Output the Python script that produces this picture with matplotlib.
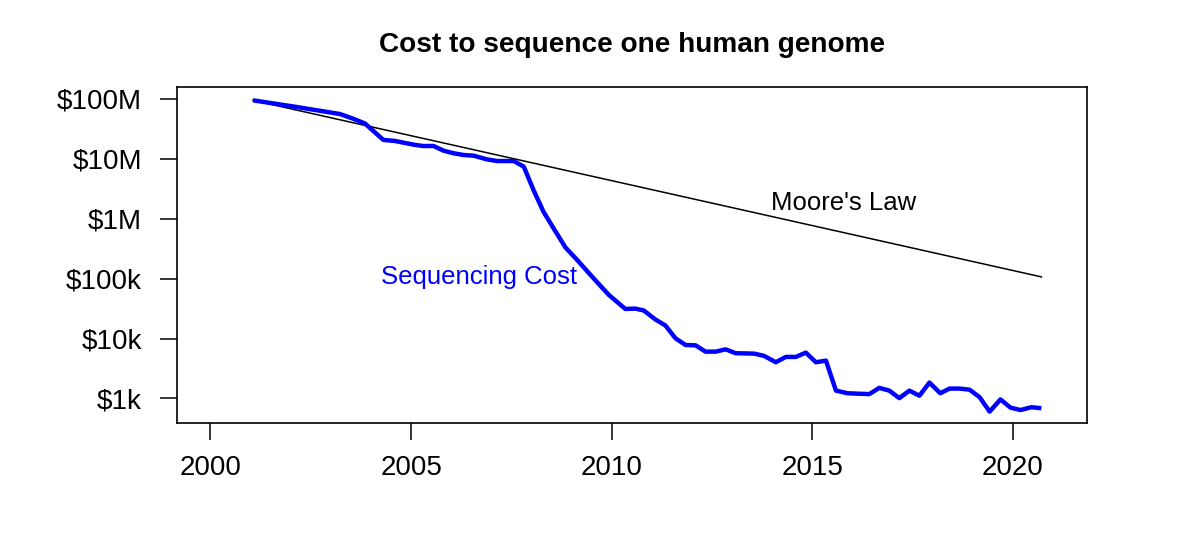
import numpy as np
import matplotlib
matplotlib.use("Agg")
import matplotlib.pyplot as plt

plt.rcParams["font.family"] = ["Liberation Sans", "DejaVu Sans"]

# sequencing cost per genome (USD)
seq_years = [
    2001.06, 2002.23, 2003.23, 2003.55, 2003.85, 2004.31, 2004.60, 2004.85,
    2005.10, 2005.30, 2005.56, 2005.81, 2006.06, 2006.31, 2006.56, 2006.89,
    2007.14, 2007.56, 2007.81, 2008.05, 2008.30, 2008.55, 2008.85, 2009.14,
    2009.55, 2009.93, 2010.34, 2010.59, 2010.80, 2011.09, 2011.34, 2011.59,
    2011.84, 2012.09, 2012.34, 2012.59, 2012.84, 2013.09, 2013.55, 2013.80,
    2014.09, 2014.34, 2014.59, 2014.84, 2015.09, 2015.34, 2015.59, 2015.88,
    2016.42, 2016.67, 2016.92, 2017.17, 2017.42, 2017.67, 2017.92, 2018.19,
    2018.42, 2018.67, 2018.92, 2019.17, 2019.42, 2019.69, 2019.94, 2020.19,
    2020.46, 2020.71,
]
seq_cost = [
    95e6, 72e6, 56e6, 47e6, 39e6, 20.7e6, 19.9e6, 18.4e6,
    17.1e6, 16.4e6, 16.4e6, 13.7e6, 12.4e6, 11.6e6, 11.3e6, 9.8e6,
    9.2e6, 9.2e6, 7.4e6, 3.03e6, 1.31e6, 695e3, 330e3, 205e3,
    101e3, 53.4e3, 31.2e3, 31.6e3, 29.4e3, 20.8e3, 16.5e3, 10.1e3,
    7.8e3, 7.7e3, 6.04e3, 6.04e3, 6.6e3, 5.69e3, 5.6e3, 5.13e3,
    4.02e3, 4.93e3, 4.93e3, 5.82e3, 4.02e3, 4.28e3, 1.35e3, 1.22e3,
    1.18e3, 1.50e3, 1.35e3, 1.01e3, 1.35e3, 1.11e3, 1.84e3, 1.22e3,
    1.46e3, 1.46e3, 1.40e3, 1.05e3, 603, 962, 702, 640,
    713, 686,
]

# Moore's law reference line (end points)
moore_years = [2001.06, 2020.71]
moore_cost = [95e6, 107e3]

x_ticks = [2000, 2005, 2010, 2015, 2020]
y_ticks = [1e3, 1e4, 1e5, 1e6, 1e7, 1e8]
y_tick_labels = ["$1k", "$10k", "$100k", "$1M", "$10M", "$100M"]

fig = plt.figure(figsize=(12, 5.56), dpi=100)
ax = fig.add_axes([0.1473, 0.2387, 0.7583, 0.6043])

ax.plot(moore_years, moore_cost, color="black", linewidth=1.1)
ax.plot(seq_years, seq_cost, color="#0000FF", linewidth=3.2,
        solid_joinstyle="round", solid_capstyle="butt")

ax.set_yscale("log")
ax.set_xlim(1999.16, 2021.84)
ax.set_ylim(10 ** 2.585, 10 ** 8.195)

ax.set_xticks(x_ticks)
ax.set_xticklabels([str(v) for v in x_ticks])
ax.set_yticks(y_ticks)
ax.set_yticklabels(y_tick_labels)
ax.minorticks_off()
ax.tick_params(axis="both", direction="out", length=12.5, width=1.1,
               labelsize=20)
ax.tick_params(axis="x", pad=10.5)
ax.tick_params(axis="y", pad=12.5)

for sp in ax.spines.values():
    sp.set_linewidth(1.2)

ax.text(2015.79, 1.80e6, "Moore's Law", ha="center", va="center",
        fontsize=18.5, color="black")
ax.text(2006.70, 1.05e5, "Sequencing Cost", ha="center", va="center",
        fontsize=18.5, color="#0000FF")

fig.text(0.5264, 0.919, "Cost to sequence one human genome",
         ha="center", va="center", fontsize=20.2, fontweight="bold")

fig.savefig("out.png", dpi=100, facecolor="white")
